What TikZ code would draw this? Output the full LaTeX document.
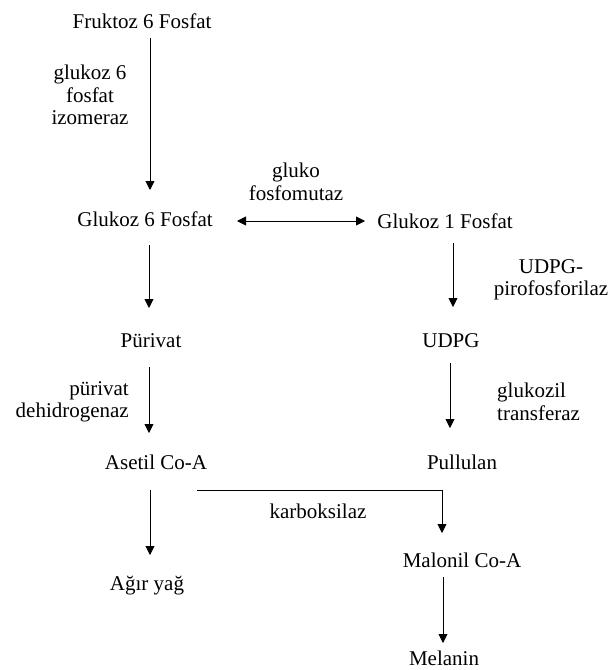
\documentclass[tikz,border=0pt]{standalone}
\usepackage{fontspec}
\setmainfont{Liberation Serif}
\usetikzlibrary{arrows.meta}
\begin{document}
\begin{tikzpicture}[x=1pt,y=-1pt,
  lbl/.style={font=\fontsize{21}{22.5}\selectfont, inner sep=0pt, anchor=base},
  enz/.style={font=\fontsize{21}{22.5}\selectfont, inner sep=0pt},
  arr/.style={line width=0.9pt, -{Triangle[width=9pt,length=9pt]}},
  darr/.style={line width=0.9pt, {Triangle[width=9pt,length=9pt]}-{Triangle[width=9pt,length=9pt]}}]
\useasboundingbox (0,0) rectangle (608,670);
\fill[white] (0,0) rectangle (608,670);

% metabolites
\node[lbl] (fr) at (142,28)  {Fruktoz 6 Fosfat};
\node[lbl] (g6) at (145,226) {Glukoz 6 Fosfat};
\node[lbl] (g1) at (445,228) {Glukoz 1 Fosfat};
\node[lbl] (pu) at (151,347) {Pürivat};
\node[lbl] (ud) at (451,347) {UDPG};
\node[lbl] (as) at (156,469) {Asetil Co-A};
\node[lbl] (pl) at (462,469) {Pullulan};
\node[lbl] (ag) at (147,590) {Ağır yağ};
\node[lbl] (ma) at (462,567) {Malonil Co-A};
\node[lbl] (me) at (444,665) {Melanin};

% enzymes
\node[enz, align=center] (izo) at (90,95) {glukoz 6\\fosfat\\izomeraz};
\node[enz, align=center] (mut) at (296,182) {gluko\\fosfomutaz};
\node[enz, align=center] (upp) at (551,280) {UDPG-\\pirofosforilaz};
\node[enz, align=right, anchor=east] (pdh) at (129,402) {pürivat\\dehidrogenaz};
\node[enz, align=left, anchor=west] (gtr) at (497,402) {glukozil\\transferaz};
\node[lbl] (kar) at (318,518) {karboksilaz};

% connectors
\draw[arr] ([shift={(8,10)}]fr.base) -- ([shift={(5,-36)}]g6.base);
\draw[darr] ([shift={(92,-5)}]g6.base) -- ([shift={(-80,-7)}]g1.base);
\draw[arr] ([shift={(4,19)}]g6.base) -- ([shift={(-2,-39)}]pu.base);
\draw[arr] ([shift={(8,15)}]g1.base) -- ([shift={(2,-40)}]ud.base);
\draw[arr] ([shift={(-2,20)}]pu.base) -- ([shift={(-7,-36)}]as.base);
\draw[arr] ([shift={(-1,16)}]ud.base) -- ([shift={(-12,-41)}]pl.base);
\draw[arr] ([shift={(-6,21)}]as.base) -- ([shift={(3,-35)}]ag.base);
\draw[arr] ([shift={(41,21)}]as.base) -| ([shift={(-20,-34)}]ma.base);
\draw[arr] ([shift={(-19,10)}]ma.base) -- ([shift={(-1,-22)}]me.base);
\end{tikzpicture}
\end{document}
